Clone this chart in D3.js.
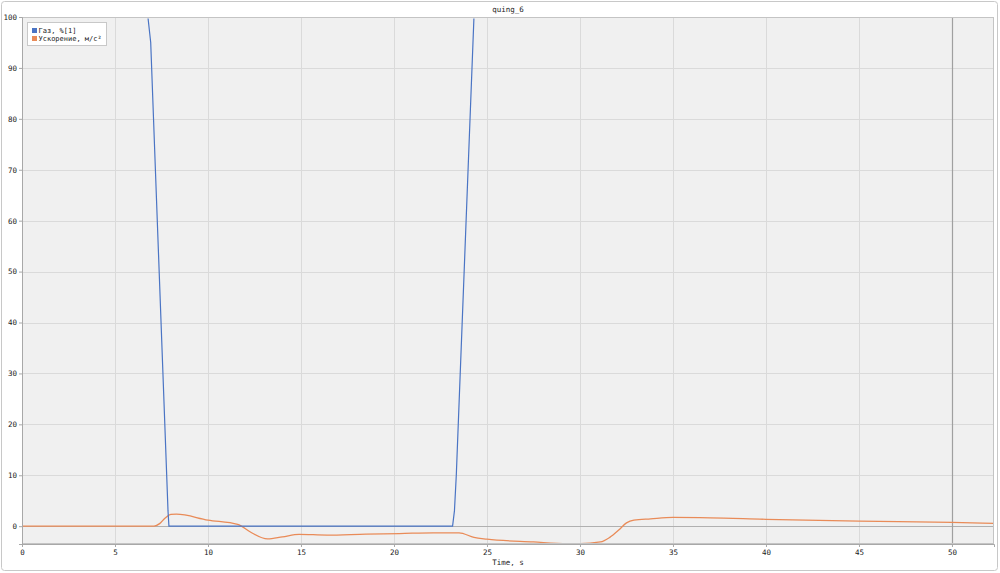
<!DOCTYPE html>
<html><head><meta charset="utf-8">
<script src="https://cdn.jsdelivr.net/npm/d3@7"></script>
<style>body{margin:0;background:#fff;}svg{display:block;}</style>
</head><body><svg id="c" width="1000" height="573"></svg>
<script>
const title = "quing_6";
const xLabel = "Time, s";
const seriesNames = ["Газ, %[1]", "Ускорение, м/с²"];
const seriesColors = ["#4a74c4", "#e98b58"];
const xTicks = [0,5,10,15,20,25,30,35,40,45,50];
const yTicks = [0,10,20,30,40,50,60,70,80,90,100];
const xDomain = [0, 52.26];
const yDomain = [-3.5, 100];
const cursorT = 50;

const gasT = [0, 6.77, 6.92, 7.85, 7.9, 23.15, 23.25, 23.35, 24.3, 52.26];
const gasV = [100, 100, 95, 3, 0, 0, 3, 10, 100, 100];

const accT = [0, 7.1, 7.4, 7.7, 8.0, 8.3, 10.0, 11.6, 12.3, 13.2, 14.0, 14.9, 16.4, 18.5, 20.3, 22.1, 23.5, 24.3, 25.0, 27.5, 29.3, 30.0, 31.1, 31.6, 32.1, 32.5, 32.9, 33.8, 35.0, 37.0, 40.0, 45.0, 50.0, 52.26];
const accV = [0, 0, 0.5, 1.6, 2.3, 2.35, 1.2, 0.35, -1.2, -2.5, -2.1, -1.6, -1.75, -1.55, -1.45, -1.3, -1.3, -2.2, -2.55, -3.1, -3.42, -3.42, -3.1, -2.2, -0.7, 0.65, 1.2, 1.45, 1.72, 1.65, 1.35, 1.0, 0.75, 0.55];

const FONT = "DejaVu Sans Mono";
const FS = "7.5px";
const svg = d3.select("#c");
const L = 22, T = 17, R = 994, B = 544;
const CX = (L + R) / 2;
const x = d3.scaleLinear().domain(xDomain).range([L, R]);
const y = d3.scaleLinear().domain(yDomain).range([B, T]);

svg.append("rect").attr("x",1.5).attr("y",1.5).attr("width",996).attr("height",569)
  .attr("rx",3).attr("fill","#fff").attr("stroke","#c8c8c8");

svg.append("rect").attr("x",L).attr("y",T).attr("width",R-L).attr("height",B-T).attr("fill","#f0f0f0");

const g = svg.append("g");
g.selectAll(".gx").data(xTicks).join("line")
  .attr("x1",d=>Math.round(x(d))+0.5).attr("x2",d=>Math.round(x(d))+0.5)
  .attr("y1",T).attr("y2",B).attr("stroke","#dadada");
g.selectAll(".gy").data(yTicks).join("line")
  .attr("y1",d=>Math.round(y(d))+0.5).attr("y2",d=>Math.round(y(d))+0.5)
  .attr("x1",L).attr("x2",R).attr("stroke","#dadada");
g.append("line").attr("x1",L).attr("x2",R).attr("y1",Math.round(y(0))+0.5).attr("y2",Math.round(y(0))+0.5).attr("stroke","#b0b0b0");
g.append("line").attr("x1",Math.round(x(cursorT))+0.5).attr("x2",Math.round(x(cursorT))+0.5).attr("y1",T).attr("y2",B).attr("stroke","#a0a0a0").attr("stroke-width",1.2);

svg.append("defs").append("clipPath").attr("id","cl").append("rect").attr("x",L).attr("y",T+1.5).attr("width",R-L).attr("height",B-T+1);
const lines = svg.append("g").attr("clip-path","url(#cl)");

const accLine = d3.line().x((d,i)=>x(accT[i])).y(d=>y(d)).curve(d3.curveMonotoneX);
lines.append("path").attr("d",accLine(accV)).attr("fill","none").attr("stroke",seriesColors[1]).attr("stroke-width",1.3);
const gasLine = d3.line().x((d,i)=>x(gasT[i])).y(d=>y(d));
lines.append("path").attr("d",gasLine(gasV)).attr("fill","none").attr("stroke",seriesColors[0]).attr("stroke-width",1.2);

svg.append("rect").attr("x",L+0.5).attr("y",T+0.5).attr("width",R-L-1).attr("height",B-T-1).attr("fill","none").attr("stroke","#c4c4c4");

const xa = svg.append("g").attr("transform",`translate(0,${B})`).call(d3.axisBottom(x).tickValues(xTicks).tickSize(3).tickPadding(3));
const ya = svg.append("g").attr("transform",`translate(${L},0)`).call(d3.axisLeft(y).tickValues(yTicks).tickSize(3).tickPadding(2));
[xa,ya].forEach(a=>{
  a.select(".domain").attr("stroke","#a8a8a8");
  a.selectAll(".tick line").attr("stroke","#a8a8a8");
  a.selectAll("text").attr("fill","#222").style("font-family",FONT).style("font-size",FS);
});

svg.append("text").attr("x",CX).attr("y",11.5).attr("text-anchor","middle")
  .style("font-family",FONT).style("font-size",FS).attr("fill","#222").text(title);
svg.append("text").attr("x",CX).attr("y",565).attr("text-anchor","middle")
  .style("font-family",FONT).style("font-size",FS).attr("fill","#222").text(xLabel);

const lg = svg.append("g");
lg.append("rect").attr("x",27.5).attr("y",22.5).attr("width",79).attr("height",23).attr("fill","#fff").attr("stroke","#c8c8c8");
seriesNames.forEach((n,i)=>{
  lg.append("rect").attr("x",32).attr("y",28+i*8).attr("width",5).attr("height",5).attr("fill",seriesColors[i]);
  lg.append("text").attr("x",38.5).attr("y",33+i*8).style("font-family",FONT).style("font-size","7px").attr("fill","#222").text(n);
});
</script></body></html>
